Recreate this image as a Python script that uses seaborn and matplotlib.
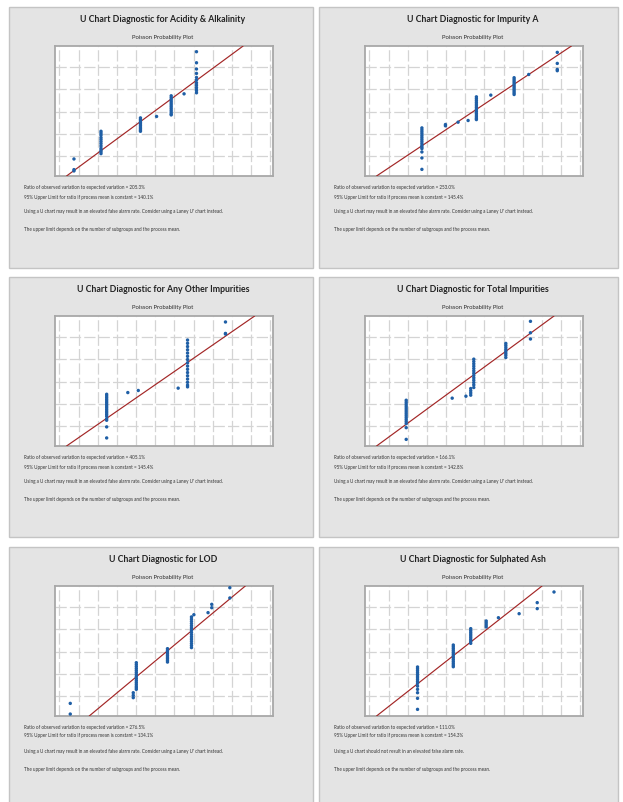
import numpy as np
import matplotlib
matplotlib.use("Agg")
import matplotlib.pyplot as plt
from matplotlib.patches import Rectangle
import seaborn as sns

# panel titles and summary numbers
titles = ["Acidity & Alkalinity", "Impurity A", "Any Other Impurities",
          "Total Impurities", "LOD", "Sulphated Ash"]
ratio_obs = ["205.3%", "253.0%", "405.1%", "166.1%", "276.5%", "111.0%"]
upper_lim = ["140.1%", "145.4%", "145.4%", "142.8%", "134.1%", "154.3%"]
use_msg = ["Using a U chart may result in an elevated false alarm rate. Consider using a Laney U' chart instead."] * 5 \
    + ["Using a U chart should not result in an elevated false alarm rate."]

# poisson probability plot points (0-100 plot units)
acid_x = [8.7]*3 + [21.1]*12 + [39.2]*10 + [46.6] + [53.3]*12 + [59.2] + [64.9]*12
acid_y = [13.1, 4.9, 3.9,
          34.4, 33.0, 31.5, 29.6, 28.1, 26.5, 24.9, 23.1, 21.3, 19.9, 18.6, 17.2,
          44.7, 43.5, 42.3, 41.1, 40.0, 38.8, 37.6, 36.4, 35.3, 34.4,
          45.8,
          61.7, 60.3, 58.9, 57.5, 56.1, 54.7, 53.3, 51.9, 50.5, 49.1, 47.8, 47.0,
          63.2,
          95.6, 87.1, 82.3, 78.9, 75.8, 73.8, 71.7, 69.9, 68.1, 66.6, 65.6, 64.0]
acid_fit_x = [5.3, 86.3]

impa_x = [26.1]*15 + [36.9]*2 + [42.7] + [47.3] + [51.1]*14 + [57.7] + [68.4]*11 + [75.1] + [88.2]*4
impa_y = [37.0, 35.5, 34.0, 32.5, 31.0, 29.5, 28.0, 26.5, 25.0, 23.5, 22.2, 21.1, 18.5, 13.9, 5.1,
          39.6, 38.6,
          41.4,
          42.7,
          60.9, 59.5, 58.1, 56.7, 55.3, 53.9, 52.5, 51.1, 49.7, 48.3, 46.9, 45.5, 44.3, 43.4,
          62.2,
          75.6, 74.3, 73.0, 71.7, 70.4, 69.1, 67.8, 66.5, 65.2, 63.9, 62.7,
          78.1,
          95.1, 86.6, 82.0, 81.0]
impa_fit_x = [5.3, 94.7]

other_x = [23.7]*18 + [33.4] + [38.2] + [56.5] + [60.8]*16 + [78.2]*3
other_y = [39.8, 38.5, 37.2, 35.9, 34.6, 33.3, 32.0, 30.7, 29.4, 28.1, 26.8, 25.5, 24.2, 22.9, 21.0, 19.8, 14.7, 6.2,
           41.1,
           42.7,
           44.5,
           81.5, 79.0, 76.5, 74.0, 71.5, 69.0, 66.5, 64.0, 61.5, 59.0, 56.5, 54.0, 51.5, 49.0, 46.8, 45.5,
           95.4, 86.6, 86.1]
other_fit_x = [5.3, 91.6]

total_x = [18.9]*15 + [40.0] + [46.3] + [48.5]*4 + [49.9]*13 + [64.6]*8 + [75.9]*3
total_y = [35.2, 33.7, 32.2, 30.7, 29.2, 27.7, 26.2, 24.7, 23.2, 21.7, 20.2, 18.7, 17.2, 14.1, 5.1,
           36.8,
           38.3,
           44.2, 42.5, 40.8, 39.1,
           66.8, 65.0, 63.2, 61.4, 59.6, 57.8, 56.0, 54.2, 52.4, 50.6, 48.8, 47.0, 45.0,
           78.9, 77.4, 75.9, 74.4, 72.9, 71.4, 69.9, 68.1,
           95.9, 87.1, 82.3]
total_fit_x = [5.3, 86.7]

lod_x = [7.0]*2 + [35.9]*3 + [37.3]*15 + [51.6]*9 + [62.6]*15 + [63.7] + [70.2] + [71.9]*2 + [80.2]*2
lod_y = [9.7, 1.5,
         17.9, 15.9, 14.1,
         41.0, 39.5, 38.0, 36.5, 35.0, 33.5, 32.0, 30.5, 29.0, 27.5, 26.0, 24.5, 23.0, 21.7, 20.5,
         51.8, 50.5, 49.2, 47.9, 46.6, 45.3, 44.0, 42.7, 41.5,
         76.2, 74.5, 72.8, 71.1, 69.4, 67.7, 66.0, 64.3, 62.6, 60.9, 59.2, 57.5, 55.8, 54.2, 52.6,
         77.9,
         79.5,
         85.9, 83.3,
         98.7, 90.8]
lod_fit_x = [15.7, 87.3]

ash_x = [24.1]*15 + [40.5]*13 + [48.5]*9 + [55.6]*4 + [61.2] + [70.7] + [79.0]*2 + [86.7]
ash_y = [37.7, 36.3, 34.9, 33.5, 32.1, 30.7, 29.3, 27.9, 26.5, 25.1, 23.0, 20.5, 17.9, 13.6, 5.1,
         54.6, 53.2, 51.8, 50.4, 49.0, 47.6, 46.2, 44.8, 43.4, 42.0, 40.6, 39.2, 37.9,
         67.2, 65.8, 64.4, 63.0, 61.6, 60.2, 58.8, 57.4, 55.9,
         73.1, 71.6, 70.0, 68.5,
         75.6,
         78.7,
         87.2, 82.6,
         95.4]
ash_fit_x = [5.3, 81.2]

fit_y = [0, 100]

points_x = [acid_x, impa_x, other_x, total_x, lod_x, ash_x]
points_y = [acid_y, impa_y, other_y, total_y, lod_y, ash_y]
fits_x = [acid_fit_x, impa_fit_x, other_fit_x, total_fit_x, lod_fit_x, ash_fit_x]

sns.set_style("white")
plt.rcParams['font.family'] = ['Lato', 'DejaVu Sans']

W, H = 623, 802
fig = plt.figure(figsize=(W / 100, H / 100), dpi=100)
fig.patch.set_facecolor("white")

def fx(px):
    return px / W

def fy(py):
    return 1 - py / H

# panel boxes (left, top, right, bottom) in pixels
col_edges = [(9, 313), (319, 618)]
row_edges = [(7, 268), (277, 537), (547, 810)]

for i in range(6):
    r, c = divmod(i, 2)
    x0, x1 = col_edges[c]
    y0, y1 = row_edges[r]
    fig.patches.append(Rectangle((fx(x0), fy(y1)), fx(x1 - x0), (y1 - y0) / H,
                                 transform=fig.transFigure, facecolor="#e4e4e4",
                                 edgecolor="#c4c4c4", linewidth=1.0, zorder=-10))

    ox = 0 if c == 0 else 310
    oy = [0, 270, 537][r]
    top = 46 + oy + (3 if r == 2 else 0)
    # plot area
    ax = fig.add_axes([fx(55 + ox), fy(top + 130), 218 / W, 130 / H])
    ax.set_facecolor("white")
    ax.set_xlim(0, 100)
    ax.set_ylim(0, 100)
    ax.set_xticks(np.arange(2.0, 100, 8.8))
    ax.set_yticks(np.arange(15.2, 100, 17.2))
    ax.tick_params(length=0, labelbottom=False, labelleft=False)
    ax.grid(True, color="#d4d4d4", linewidth=0.9, linestyle=(0, (9, 2.5)))
    for s in ax.spines.values():
        s.set_color("#a8a8a8")
        s.set_linewidth(1.3)

    sns.lineplot(x=fits_x[i], y=fit_y, ax=ax, color="#a32626", linewidth=0.85, zorder=3)
    sns.scatterplot(x=points_x[i], y=points_y[i], ax=ax, color="#1f5fa6", s=6,
                    edgecolor="none", zorder=4)
    ax.set_xlabel("")
    ax.set_ylabel("")

    cx = 163 + ox
    ty = [20, 289, 559][r]
    fig.text(fx(cx), fy(ty), "U Chart Diagnostic for " + titles[i], ha="center", va="center",
             fontsize=6.3, fontweight="bold", color="#222222")
    fig.text(fx(cx), fy(ty + 18), "Poisson Probability Plot", ha="center", va="center",
             fontsize=4.2, color="#2a2a2a")

    tx = 24 + ox
    base = [188, 458, 727][r]
    fig.text(fx(tx), fy(base), "Ratio of observed variation to expected variation = " + ratio_obs[i],
             ha="left", va="center", fontsize=3.3, color="#333333")
    fig.text(fx(tx), fy(base + 9), "95% Upper Limit for ratio if process mean is constant = " + upper_lim[i],
             ha="left", va="center", fontsize=3.3, color="#333333")
    fig.text(fx(tx), fy(base + 24), use_msg[i],
             ha="left", va="center", fontsize=3.3, color="#333333")
    fig.text(fx(tx), fy(base + 42), "The upper limit depends on the number of subgroups and the process mean.",
             ha="left", va="center", fontsize=3.3, color="#333333")

fig.savefig("out.png", dpi=100, facecolor="white")
